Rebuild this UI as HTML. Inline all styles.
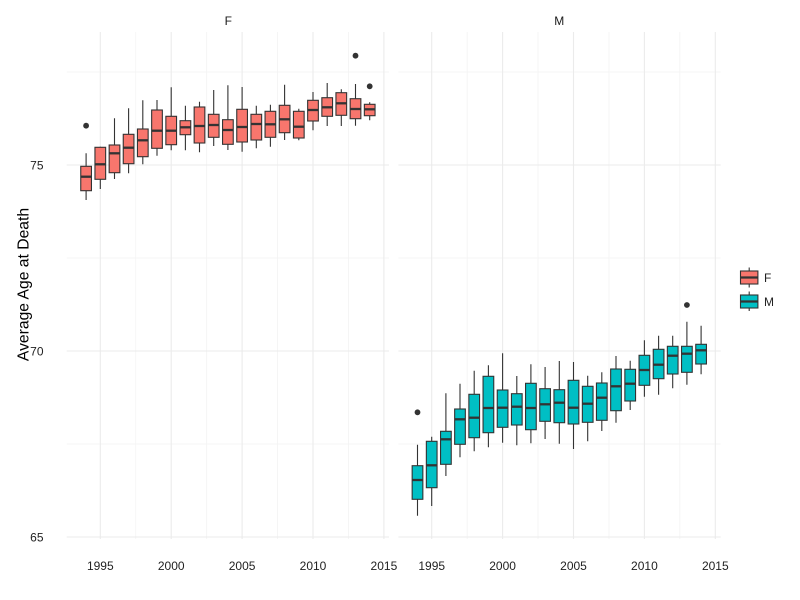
<!DOCTYPE html>
<html><head><meta charset="utf-8"><style>
html,body{margin:0;padding:0;background:#fff;}
svg{display:block;}
text{font-family:"Liberation Sans",Arial,sans-serif;}
</style></head><body>
<svg width="800" height="600" viewBox="0 0 800 600" xmlns="http://www.w3.org/2000/svg">
<rect width="800" height="600" fill="#fff"/>
<!-- grid F -->
<g stroke="#f3f3f3" stroke-width="0.8">
<line x1="66.7" x2="389" y1="72" y2="72"/><line x1="66.7" x2="389" y1="258" y2="258"/><line x1="66.7" x2="389" y1="444" y2="444"/>
<line x1="135.75" x2="135.75" y1="32" y2="539"/><line x1="206.65" x2="206.65" y1="32" y2="539"/><line x1="277.55" x2="277.55" y1="32" y2="539"/><line x1="348.45" x2="348.45" y1="32" y2="539"/>
<line x1="398.4" x2="720.7" y1="72" y2="72"/><line x1="398.4" x2="720.7" y1="258" y2="258"/><line x1="398.4" x2="720.7" y1="444" y2="444"/>
<line x1="467.15" x2="467.15" y1="32" y2="539"/><line x1="538.05" x2="538.05" y1="32" y2="539"/><line x1="608.95" x2="608.95" y1="32" y2="539"/><line x1="679.85" x2="679.85" y1="32" y2="539"/>
</g>
<g stroke="#ebebeb" stroke-width="1.1">
<line x1="66.7" x2="389" y1="165" y2="165"/><line x1="66.7" x2="389" y1="351" y2="351"/><line x1="66.7" x2="389" y1="537" y2="537"/>
<line x1="100.3" x2="100.3" y1="32" y2="539"/><line x1="171.2" x2="171.2" y1="32" y2="539"/><line x1="242.1" x2="242.1" y1="32" y2="539"/><line x1="313" x2="313" y1="32" y2="539"/><line x1="383.9" x2="383.9" y1="32" y2="539"/>
<line x1="398.4" x2="720.7" y1="165" y2="165"/><line x1="398.4" x2="720.7" y1="351" y2="351"/><line x1="398.4" x2="720.7" y1="537" y2="537"/>
<line x1="431.7" x2="431.7" y1="32" y2="539"/><line x1="502.6" x2="502.6" y1="32" y2="539"/><line x1="573.5" x2="573.5" y1="32" y2="539"/><line x1="644.4" x2="644.4" y1="32" y2="539"/><line x1="715.3" x2="715.3" y1="32" y2="539"/>
</g>

<!-- F boxes -->
<g stroke="#333" stroke-width="1.1" fill="#F8766D">
<path d="M86.1 153.3V166.3M86.1 190.7V200"/><rect x="80.75" y="166.3" width="10.7" height="24.4"/><line x1="80.75" x2="91.45" y1="176.7" y2="176.7" stroke-width="2.3"/>
<path d="M100.3 146.7V147.3M100.3 179.3V189"/><rect x="94.95" y="147.3" width="10.7" height="32"/><line x1="94.95" x2="105.65" y1="164.3" y2="164.3" stroke-width="2.3"/>
<path d="M114.5 118.3V145M114.5 172.7V179"/><rect x="109.15" y="145" width="10.7" height="27.7"/><line x1="109.15" x2="119.85" y1="153.3" y2="153.3" stroke-width="2.3"/>
<path d="M128.6 108.3V134.3M128.6 163.7V173.3"/><rect x="123.25" y="134.3" width="10.7" height="29.4"/><line x1="123.25" x2="133.95" y1="147.7" y2="147.7" stroke-width="2.3"/>
<path d="M142.8 100.3V129M142.8 156.7V164.3"/><rect x="137.45" y="129" width="10.7" height="27.7"/><line x1="137.45" x2="148.15" y1="140.3" y2="140.3" stroke-width="2.3"/>
<path d="M157 100V110M157 148.3V155.7"/><rect x="151.65" y="110" width="10.7" height="38.3"/><line x1="151.65" x2="162.35" y1="130.7" y2="130.7" stroke-width="2.3"/>
<path d="M171.2 87.3V116.3M171.2 144.7V150.3"/><rect x="165.85" y="116.3" width="10.7" height="28.4"/><line x1="165.85" x2="176.55" y1="130.7" y2="130.7" stroke-width="2.3"/>
<path d="M185.4 105.7V120.7M185.4 134.7V150.3"/><rect x="180.05" y="120.7" width="10.7" height="14"/><line x1="180.05" x2="190.75" y1="127.3" y2="127.3" stroke-width="2.3"/>
<path d="M199.5 101.7V107M199.5 143V152.3"/><rect x="194.15" y="107" width="10.7" height="36"/><line x1="194.15" x2="204.85" y1="126" y2="126" stroke-width="2.3"/>
<path d="M213.7 90V114.3M213.7 137.3V146"/><rect x="208.35" y="114.3" width="10.7" height="23"/><line x1="208.35" x2="219.05" y1="125" y2="125" stroke-width="2.3"/>
<path d="M227.9 85.3V119.7M227.9 144.3V150"/><rect x="222.55" y="119.7" width="10.7" height="24.6"/><line x1="222.55" x2="233.25" y1="130" y2="130" stroke-width="2.3"/>
<path d="M242.1 87V109.3M242.1 142V151.7"/><rect x="236.75" y="109.3" width="10.7" height="32.7"/><line x1="236.75" x2="247.45" y1="127" y2="127" stroke-width="2.3"/>
<path d="M256.3 105.7V114.3M256.3 140V148.3"/><rect x="250.95" y="114.3" width="10.7" height="25.7"/><line x1="250.95" x2="261.65" y1="124" y2="124" stroke-width="2.3"/>
<path d="M270.4 104.7V111.3M270.4 137.3V146.7"/><rect x="265.05" y="111.3" width="10.7" height="26"/><line x1="265.05" x2="275.75" y1="124.3" y2="124.3" stroke-width="2.3"/>
<path d="M284.6 84.7V105.3M284.6 132.7V140"/><rect x="279.25" y="105.3" width="10.7" height="27.4"/><line x1="279.25" x2="289.95" y1="119.3" y2="119.3" stroke-width="2.3"/>
<path d="M298.8 108.7V111.3M298.8 138V140.3"/><rect x="293.45" y="111.3" width="10.7" height="26.7"/><line x1="293.45" x2="304.15" y1="126.7" y2="126.7" stroke-width="2.3"/>
<path d="M313 92V100.3M313 121V130.3"/><rect x="307.65" y="100.3" width="10.7" height="20.7"/><line x1="307.65" x2="318.35" y1="110" y2="110" stroke-width="2.3"/>
<path d="M327.2 83V97.7M327.2 116.3V126"/><rect x="321.85" y="97.7" width="10.7" height="18.6"/><line x1="321.85" x2="332.55" y1="107.3" y2="107.3" stroke-width="2.3"/>
<path d="M341.3 89.3V92.7M341.3 115.3V126"/><rect x="335.95" y="92.7" width="10.7" height="22.6"/><line x1="335.95" x2="346.65" y1="103.3" y2="103.3" stroke-width="2.3"/>
<path d="M355.5 84V98.7M355.5 118.7V125.7"/><rect x="350.15" y="98.7" width="10.7" height="20"/><line x1="350.15" x2="360.85" y1="109" y2="109" stroke-width="2.3"/>
<path d="M369.7 102.3V104.3M369.7 115.7V120.3"/><rect x="364.35" y="104.3" width="10.7" height="11.4"/><line x1="364.35" x2="375.05" y1="109.3" y2="109.3" stroke-width="2.3"/>
</g>
<g fill="#333">
<circle cx="86.1" cy="125.7" r="2.9"/><circle cx="355.5" cy="55.7" r="2.9"/><circle cx="369.7" cy="86.3" r="2.9"/>
<circle cx="417.5" cy="412.3" r="2.9"/><circle cx="686.9" cy="305" r="2.9"/>
</g>

<!-- M boxes -->
<g stroke="#333" stroke-width="1.1" fill="#00BFC4">
<path d="M417.5 444.7V465.7M417.5 499.3V515.7"/><rect x="412.15" y="465.7" width="10.7" height="33.6"/><line x1="412.15" x2="422.85" y1="480" y2="480" stroke-width="2.3"/>
<path d="M431.7 436.7V441.3M431.7 487.7V506"/><rect x="426.35" y="441.3" width="10.7" height="46.4"/><line x1="426.35" x2="437.05" y1="465.3" y2="465.3" stroke-width="2.3"/>
<path d="M445.9 393.3V431.3M445.9 464.3V476"/><rect x="440.55" y="431.3" width="10.7" height="33"/><line x1="440.55" x2="451.25" y1="439.3" y2="439.3" stroke-width="2.3"/>
<path d="M460 383.7V409M460 444.3V457.3"/><rect x="454.65" y="409" width="10.7" height="35.3"/><line x1="454.65" x2="465.35" y1="419.3" y2="419.3" stroke-width="2.3"/>
<path d="M474.2 370.7V394.3M474.2 437.7V451.3"/><rect x="468.85" y="394.3" width="10.7" height="43.4"/><line x1="468.85" x2="479.55" y1="417.7" y2="417.7" stroke-width="2.3"/>
<path d="M488.4 365.3V376.3M488.4 432.7V447.3"/><rect x="483.05" y="376.3" width="10.7" height="56.4"/><line x1="483.05" x2="493.75" y1="408" y2="408" stroke-width="2.3"/>
<path d="M502.6 353.3V390M502.6 427.3V442.7"/><rect x="497.25" y="390" width="10.7" height="37.3"/><line x1="497.25" x2="507.95" y1="407.7" y2="407.7" stroke-width="2.3"/>
<path d="M516.8 376V393.7M516.8 425V445.3"/><rect x="511.45" y="393.7" width="10.7" height="31.3"/><line x1="511.45" x2="522.15" y1="406.7" y2="406.7" stroke-width="2.3"/>
<path d="M530.9 364.3V383.3M530.9 429.7V443.3"/><rect x="525.55" y="383.3" width="10.7" height="46.4"/><line x1="525.55" x2="536.25" y1="408" y2="408" stroke-width="2.3"/>
<path d="M545.1 367V388.7M545.1 421.3V439"/><rect x="539.75" y="388.7" width="10.7" height="32.6"/><line x1="539.75" x2="550.45" y1="404.3" y2="404.3" stroke-width="2.3"/>
<path d="M559.3 361V389.7M559.3 422.7V443.7"/><rect x="553.95" y="389.7" width="10.7" height="33"/><line x1="553.95" x2="564.65" y1="402.7" y2="402.7" stroke-width="2.3"/>
<path d="M573.5 362V380.3M573.5 424V449"/><rect x="568.15" y="380.3" width="10.7" height="43.7"/><line x1="568.15" x2="578.85" y1="407.7" y2="407.7" stroke-width="2.3"/>
<path d="M587.7 375.7V386.3M587.7 422.3V441.3"/><rect x="582.35" y="386.3" width="10.7" height="36"/><line x1="582.35" x2="593.05" y1="403.7" y2="403.7" stroke-width="2.3"/>
<path d="M601.8 372.3V383M601.8 420.3V431"/><rect x="596.45" y="383" width="10.7" height="37.3"/><line x1="596.45" x2="607.15" y1="397.7" y2="397.7" stroke-width="2.3"/>
<path d="M616 356V369M616 410.7V422.7"/><rect x="610.65" y="369" width="10.7" height="41.7"/><line x1="610.65" x2="621.35" y1="386.3" y2="386.3" stroke-width="2.3"/>
<path d="M630.2 360.7V369.3M630.2 401V410"/><rect x="624.85" y="369.3" width="10.7" height="31.7"/><line x1="624.85" x2="635.55" y1="383.7" y2="383.7" stroke-width="2.3"/>
<path d="M644.4 340.3V355.3M644.4 385.3V396.7"/><rect x="639.05" y="355.3" width="10.7" height="30"/><line x1="639.05" x2="649.75" y1="370" y2="370" stroke-width="2.3"/>
<path d="M658.6 335.7V349.3M658.6 378.7V394.7"/><rect x="653.25" y="349.3" width="10.7" height="29.4"/><line x1="653.25" x2="663.95" y1="364.7" y2="364.7" stroke-width="2.3"/>
<path d="M672.7 335.7V346.3M672.7 374V388.3"/><rect x="667.35" y="346.3" width="10.7" height="27.7"/><line x1="667.35" x2="678.05" y1="355.7" y2="355.7" stroke-width="2.3"/>
<path d="M686.9 321.7V346.3M686.9 372.3V384.7"/><rect x="681.55" y="346.3" width="10.7" height="26"/><line x1="681.55" x2="692.25" y1="353.7" y2="353.7" stroke-width="2.3"/>
<path d="M701.1 325.7V344.3M701.1 364V374.3"/><rect x="695.75" y="344.3" width="10.7" height="19.7"/><line x1="695.75" x2="706.45" y1="350.3" y2="350.3" stroke-width="2.3"/>
</g>

<!-- strip labels -->
<text x="228.3" y="25" font-size="12" text-anchor="middle" fill="#1a1a1a">F</text>
<text x="559.3" y="25" font-size="12" text-anchor="middle" fill="#1a1a1a">M</text>

<!-- y tick labels -->
<g font-size="12" fill="#222" text-anchor="end">
<text x="43.5" y="169.3">75</text>
<text x="43.5" y="355.5">70</text>
<text x="43.5" y="541.5">65</text>
</g>
<!-- x tick labels -->
<g font-size="12" fill="#222" text-anchor="middle">
<text x="100.3" y="570">1995</text><text x="171.2" y="570">2000</text><text x="242.1" y="570">2005</text><text x="313" y="570">2010</text><text x="383.9" y="570">2015</text>
<text x="431.7" y="570">1995</text><text x="502.6" y="570">2000</text><text x="573.5" y="570">2005</text><text x="644.4" y="570">2010</text><text x="715.3" y="570">2015</text>
</g>
<!-- y title -->
<text transform="translate(28.5,284.5) rotate(-90)" font-size="15.7" text-anchor="middle" fill="#000">Average Age at Death</text>

<!-- legend -->
<g stroke="#333" stroke-width="1.1">
<line x1="749.2" x2="749.2" y1="267.5" y2="287.5"/>
<rect x="740.5" y="271" width="17.4" height="13" fill="#F8766D"/>
<line x1="740.5" x2="757.9" y1="277.5" y2="277.5" stroke-width="2.2"/>
<line x1="749.2" x2="749.2" y1="291.5" y2="311"/>
<rect x="740.5" y="295" width="17.4" height="13" fill="#00BFC4"/>
<line x1="740.5" x2="757.9" y1="301.5" y2="301.5" stroke-width="2.2"/>
</g>
<text x="764" y="282" font-size="12" fill="#222">F</text>
<text x="764" y="306" font-size="12" fill="#222">M</text>
</svg>
</body></html>
